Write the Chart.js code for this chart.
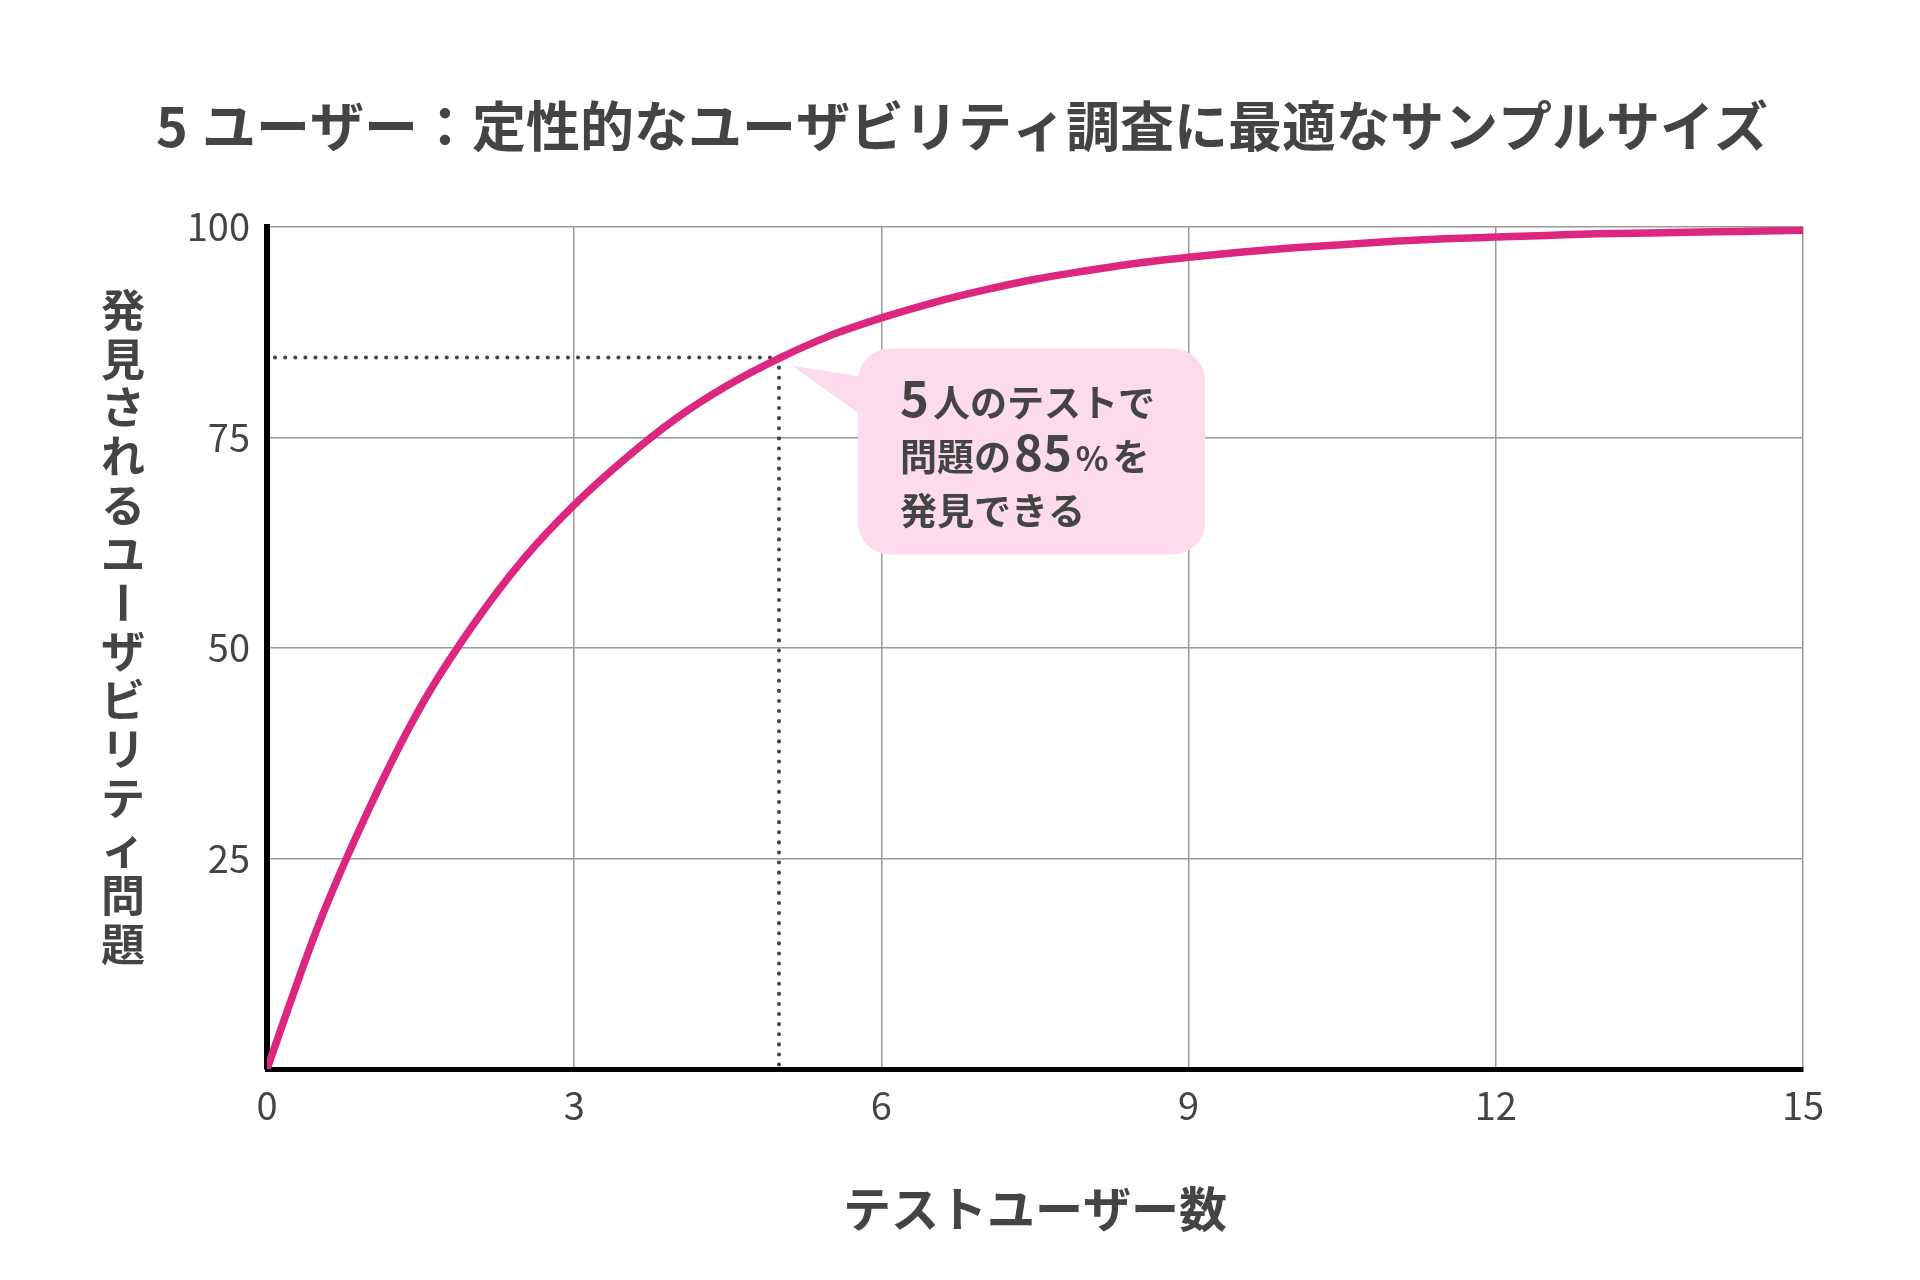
<!DOCTYPE html>
<html lang="ja">
<head>
<meta charset="UTF-8">
<title>5ユーザー：定性的なユーザビリティ調査に最適なサンプルサイズ</title>
<script src="https://cdn.jsdelivr.net/npm/chart.js"></script>
<style>
    body { margin: 0; padding: 0; background: #ffffff; }
    #wrap { width: 1920px; height: 1280px; }
</style>
</head>
<body>
<div id="wrap"><canvas id="usersChart" width="1920" height="1280"></canvas></div>
<script>
    // データ
    const users = [0, 0.5, 1, 1.5, 2, 2.5, 3, 3.5, 4, 4.5, 5, 5.5, 6, 6.5, 7, 7.5, 8, 8.5, 9, 9.5,
                   10, 10.5, 11, 11.5, 12, 12.5, 13, 13.5, 14, 14.5, 15];
    const foundPct = [0, 17, 31, 43, 52.5, 60.5, 67, 72.5, 77.3, 81.2, 84.4, 87.1, 89.2, 91, 92.5, 93.8,
                      94.8, 95.7, 96.4, 97, 97.5, 97.9, 98.3, 98.6, 98.8, 99, 99.2, 99.3, 99.4, 99.5, 99.6];
    const xTickValues = [0, 3, 6, 9, 12, 15];
    const yTickValues = [0, 25, 50, 75, 100];
    const guideUsers = 5;
    const guidePct = 84.5;

    const chartTitle = ['5', 'ユーザー：定性的なユーザビリティ調査に最適なサンプルサイズ'];
    const xTitle = 'テストユーザー数';
    const yTitle = '発見されるユーザビリティ問題';
    const calloutLines = [
        [['5', 'num'], ['人のテストで', 'kana']],
        [['問題の', 'kana'], ['85', 'num'], ['%', 'pct'], ['を', 'kana']],
        [['発見できる', 'kana']]
    ];

    const JP = '"Noto Sans CJK JP", "Noto Sans", sans-serif';
    const textColor = '#444444';
    const pink = '#dc2680';

    // 点線のガイド（5人 → 85%）、吹き出し、タイトル類
    const guidePlugin = {
        id: 'guide',
        beforeDatasetsDraw(chart) {
            const {ctx, chartArea, scales: {x, y}} = chart;
            const px = x.getPixelForValue(guideUsers);
            const py = y.getPixelForValue(guidePct);
            ctx.save();
            ctx.strokeStyle = textColor;
            ctx.lineWidth = 4;
            ctx.lineCap = 'round';
            ctx.setLineDash([0.1, 10]);
            ctx.beginPath();
            ctx.moveTo(chartArea.left + 8, py);
            ctx.lineTo(px, py);
            ctx.moveTo(px, py);
            ctx.lineTo(px, chartArea.bottom - 4);
            ctx.stroke();
            ctx.restore();
        },
        afterDatasetsDraw(chart) {
            const {ctx, scales: {x, y}} = chart;
            const px = x.getPixelForValue(guideUsers);
            const py = y.getPixelForValue(guidePct);
            const left = px + 79, top = py - 9, w = 347, h = 206;
            ctx.save();
            ctx.fillStyle = '#fbdbec';
            ctx.beginPath();
            ctx.roundRect(left, top, w, h, 32);
            ctx.fill();
            ctx.beginPath();
            ctx.moveTo(px + 13, py + 8);
            ctx.lineTo(left + 2, py + 19);
            ctx.lineTo(left + 2, py + 57);
            ctx.closePath();
            ctx.fill();

            const fonts = {
                kana: 'bold 37px ' + JP,
                num: 'bold 49px ' + JP,
                pct: 'bold 34px ' + JP
            };
            ctx.fillStyle = textColor;
            ctx.textBaseline = 'alphabetic';
            ctx.textAlign = 'left';
            calloutLines.forEach((line, i) => {
                let tx = left + 42;
                const ty = top + 68 + i * 54;
                line.forEach(([t, kind]) => {
                    ctx.font = fonts[kind];
                    ctx.fillText(t, tx, ty);
                    tx += ctx.measureText(t).width + (kind === 'kana' ? 3 : 4);
                });
            });
            ctx.restore();
        },
        afterDraw(chart) {
            const {ctx} = chart;
            ctx.save();
            ctx.fillStyle = textColor;

            // メインタイトル
            ctx.font = 'bold 54px ' + JP;
            ctx.textBaseline = 'middle';
            ctx.textAlign = 'left';
            const gap = 14;
            const w0 = ctx.measureText(chartTitle[0]).width;
            const w1 = ctx.measureText(chartTitle[1]).width;
            const tx = 962 - (w0 + gap + w1) / 2;
            ctx.fillText(chartTitle[0], tx, 126);
            ctx.fillText(chartTitle[1], tx + w0 + gap, 126);

            // 縦書きの軸タイトル
            ctx.font = 'bold 44px ' + JP;
            ctx.textAlign = 'center';
            Array.from(yTitle).forEach((ch, i) => {
                const cx = 123, cy = 310 + i * 48.8;
                if (ch === 'ー') {
                    ctx.save();
                    ctx.translate(cx, cy);
                    ctx.rotate(Math.PI / 2);
                    ctx.fillText(ch, 0, 0);
                    ctx.restore();
                } else {
                    ctx.fillText(ch, cx, cy);
                }
            });
            ctx.restore();
        }
    };

    function drawChart() {
        const ctx = document.getElementById('usersChart').getContext('2d');
        new Chart(ctx, {
            type: 'line',
            data: {
                datasets: [{
                    label: '発見される問題',
                    data: users.map((u, i) => ({x: u, y: foundPct[i]})),
                    borderColor: pink,
                    borderWidth: 7.5,
                    pointRadius: 0,
                    fill: false,
                    cubicInterpolationMode: 'monotone'
                }]
            },
            options: {
                responsive: false,
                devicePixelRatio: 1,
                animation: false,
                layout: { padding: { top: 227, left: 0, right: 117, bottom: 0 } },
                plugins: {
                    legend: { display: false },
                    tooltip: { enabled: false },
                    title: { display: false }
                },
                scales: {
                    x: {
                        type: 'linear',
                        min: 0,
                        max: 15,
                        afterBuildTicks: axis => { axis.ticks = xTickValues.map(v => ({value: v})); },
                        afterFit: axis => { axis.height = 211; },
                        grid: { color: '#9a9a9a', lineWidth: 1.5, drawTicks: false },
                        border: { color: '#000000', width: 5 },
                        ticks: {
                            color: textColor,
                            padding: 14,
                            font: { family: JP, size: 38 }
                        },
                        title: {
                            display: true,
                            text: xTitle,
                            color: textColor,
                            font: { family: JP, size: 48, weight: 'bold', lineHeight: 1.2 },
                            padding: { top: 0, bottom: 42 }
                        }
                    },
                    y: {
                        min: 0,
                        max: 100,
                        afterBuildTicks: axis => { axis.ticks = yTickValues.map(v => ({value: v})); },
                        afterFit: axis => { axis.width = 267; },
                        grid: { color: '#9a9a9a', lineWidth: 1.5, drawTicks: false },
                        border: { color: '#000000', width: 6 },
                        ticks: {
                            color: textColor,
                            padding: 17,
                            font: { family: JP, size: 38 },
                            callback: v => (v === 0 ? '' : v)
                        }
                    }
                }
            },
            plugins: [guidePlugin]
        });
    }

    document.fonts.load('bold 40px "Noto Sans CJK JP"').then(drawChart, drawChart);
</script>
</body>
</html>
